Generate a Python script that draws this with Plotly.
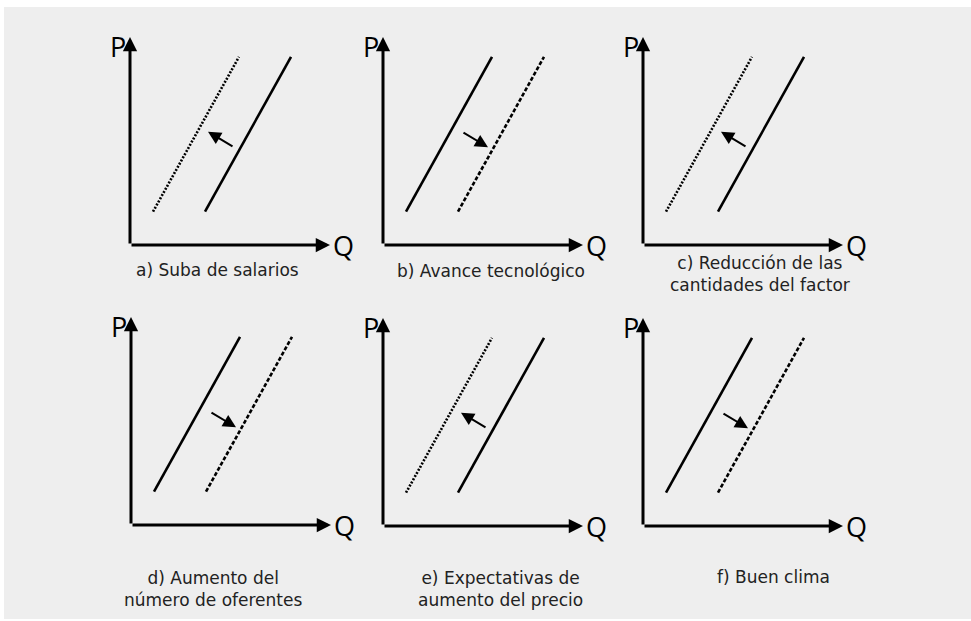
import plotly.graph_objects as go

W, H = 971, 621

# datos (unidades de cada panel: Q y P de 0 a 10)
q_curva_izq = [1.15, 5.45]
q_curva_der = [3.75, 8.05]
p_curva = [1.6, 9.05]
q_flecha_der = [3.95, 5.25]   # desplazamiento hacia la derecha (cola -> punta)
q_flecha_izq = [5.2, 3.9]     # desplazamiento hacia la izquierda
p_flecha_der = [5.45, 4.7]
p_flecha_izq = [4.7, 5.45]
eje_max = 10

paneles = ["a", "b", "c", "d", "e", "f"]
desplazamiento = ["izq", "der", "izq", "der", "izq", "der"]
titulos = [
    "a) Suba de salarios",
    "b) Avance tecnológico",
    "c) Reducción de las<br>cantidades del factor",
    "d) Aumento del<br>número de oferentes",
    "e) Expectativas de<br>aumento del precio",
    "f) Buen clima",
]

# posición de cada panel en pixeles (origen de ejes) y de su leyenda
origenes = [(130, 245), (383, 245), (643, 245), (131, 525), (383, 526), (643, 526)]
ancho_px, alto_px = 200, 208
pos_titulos = [(217, 258), (491, 259), (760, 251), (213, 566), (500, 566), (773, 565)]

fig = go.Figure()
annotations = []

for i, (p, sh) in enumerate(zip(paneles, desplazamiento)):
    n = "" if i == 0 else str(i + 1)
    xr, yr = "x" + n, "y" + n
    ox, oy = origenes[i]
    fig.update_layout(**{
        "xaxis" + n: dict(domain=[ox / W, (ox + ancho_px) / W], range=[0, eje_max],
                          visible=False, fixedrange=True, anchor=yr),
        "yaxis" + n: dict(domain=[1 - oy / H, 1 - (oy - alto_px) / H], range=[0, eje_max],
                          visible=False, fixedrange=True, anchor=xr),
    })

    # curva original (sólida) y curva nueva (punteada / discontinua)
    if sh == "izq":
        q_orig, q_nueva, dash_nueva = q_curva_der, q_curva_izq, "2px,1.6px"
        q_fl, p_fl = q_flecha_izq, p_flecha_izq
    else:
        q_orig, q_nueva, dash_nueva = q_curva_izq, q_curva_der, "4px,2px"
        q_fl, p_fl = q_flecha_der, p_flecha_der

    fig.add_trace(go.Scatter(x=q_orig, y=p_curva, mode="lines", xaxis=xr, yaxis=yr,
                             line=dict(color="black", width=2.6), cliponaxis=False,
                             showlegend=False, hoverinfo="skip"))
    fig.add_trace(go.Scatter(x=q_nueva, y=p_curva, mode="lines", xaxis=xr, yaxis=yr,
                             line=dict(color="black", width=2.6, dash=dash_nueva),
                             cliponaxis=False, showlegend=False, hoverinfo="skip"))

    # ejes con flecha
    for tip in [(0, eje_max), (eje_max, 0)]:
        annotations.append(dict(x=tip[0], y=tip[1], ax=0, ay=0, xref=xr, yref=yr,
                                axref=xr, ayref=yr, showarrow=True, arrowhead=2,
                                arrowsize=0.95, arrowwidth=3, arrowcolor="black", text=""))
    # flecha de desplazamiento
    annotations.append(dict(x=q_fl[1], y=p_fl[1], ax=q_fl[0], ay=p_fl[0], xref=xr, yref=yr,
                            axref=xr, ayref=yr, showarrow=True, arrowhead=2,
                            arrowsize=1.3, arrowwidth=2, arrowcolor="black", text=""))
    # etiquetas P y Q
    annotations.append(dict(x=0, y=eje_max, xref=xr, yref=yr, text="P", showarrow=False,
                            xanchor="right", yanchor="middle", xshift=-2, yshift=-9,
                            font=dict(family="Open Sans", size=27, color="black")))
    annotations.append(dict(x=eje_max, y=0, xref=xr, yref=yr, text="Q", showarrow=False,
                            xanchor="left", yanchor="middle", xshift=1, yshift=0,
                            font=dict(family="Open Sans", size=27, color="black")))
    # leyenda del panel
    cx, ty = pos_titulos[i]
    annotations.append(dict(x=cx / W, y=1 - ty / H, xref="paper", yref="paper",
                            text=titulos[i], showarrow=False, xanchor="center",
                            yanchor="top", align="center",
                            font=dict(family="DejaVu Sans", size=17, color="#222222")))

fig.update_layout(
    width=W, height=H,
    margin=dict(l=0, r=0, t=0, b=0),
    paper_bgcolor="white",
    plot_bgcolor="rgba(0,0,0,0)",
    annotations=annotations,
    shapes=[dict(type="rect", xref="paper", yref="paper", x0=4 / W, x1=1,
                 y0=2 / H, y1=1 - 7 / H, fillcolor="#EEEEEE", line=dict(width=0),
                 layer="below")],
)

# sin margen del body para que la figura empiece en (0, 0)
fig.write_html("out.html", config={"displayModeBar": False},
               post_script="document.body.style.margin='0px';")
